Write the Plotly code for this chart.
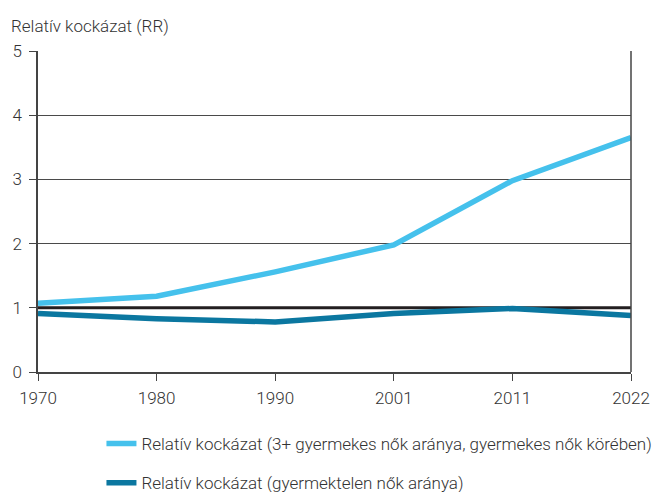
import plotly.graph_objects as go

years = ["1970", "1980", "1990", "2001", "2011", "2022"]
rr_3plus = [1.07, 1.18, 1.56, 1.98, 2.98, 3.65]
rr_childless = [0.91, 0.83, 0.78, 0.91, 0.99, 0.88]
reference_level = [1, 1, 1, 1, 1, 1]
y_ticks = [0, 1, 2, 3, 4, 5]

name_3plus = "Relatív kockázat (3+ gyermekes nők aránya, gyermekes nők körében)"
name_childless = "Relatív kockázat (gyermektelen nők aránya)"

FONT = "Roboto"
TXT = dict(family=FONT, size=17, color="#333333", weight=300)

fig = go.Figure()
fig.add_trace(go.Scatter(x=years, y=reference_level, mode="lines",
                         line=dict(color="#231f20", width=3), showlegend=False,
                         hoverinfo="skip"))
fig.add_trace(go.Scatter(x=years, y=rr_3plus, mode="lines", name=name_3plus,
                         legendgroup="a",
                         line=dict(color="#45c1ec", width=5.5)))
fig.add_trace(go.Scatter(x=years, y=rr_childless, mode="lines", name=name_childless,
                         legendgroup="b",
                         line=dict(color="#0b77a0", width=5.5)))

fig.update_layout(
    width=662, height=492,
    margin=dict(l=38, r=29, t=51, b=120),
    plot_bgcolor="white", paper_bgcolor="white",
    font=TXT,
    xaxis=dict(type="category", range=[0, 5], showgrid=False,
               showline=True, linecolor="#444444", linewidth=1.5,
               ticks="outside", ticklen=7, tickcolor="#444444",
               ticklabelstandoff=3,
               tickfont=TXT, zeroline=False),
    yaxis=dict(range=[0, 5], tickvals=y_ticks, showgrid=True,
               gridcolor="#4a4a4a", gridwidth=1.2,
               showline=True, linecolor="#444444", linewidth=1.5,
               ticks="outside", ticklen=7, tickcolor="#444444",
               ticklabelstandoff=4,
               tickfont=TXT, zeroline=False),
    legend=dict(x=0.107, y=0.134, xref="paper", yref="container",
                xanchor="left", yanchor="top",
                font=TXT, tracegroupgap=14, itemwidth=30),
    showlegend=True,
)

# right border line of the plot area
fig.add_shape(type="line", xref="paper", yref="paper", x0=1, x1=1, y0=0, y1=1,
              line=dict(color="#444444", width=1.5))

fig.add_annotation(text="Relatív kockázat (RR)", xref="paper", yref="paper",
                   x=-29/595, y=1.04, xanchor="left", yanchor="bottom",
                   showarrow=False, font=TXT)

fig.write_html("out.html", config={"displayModeBar": False},
               post_script="document.body.style.margin='0';document.body.style.padding='0';")
